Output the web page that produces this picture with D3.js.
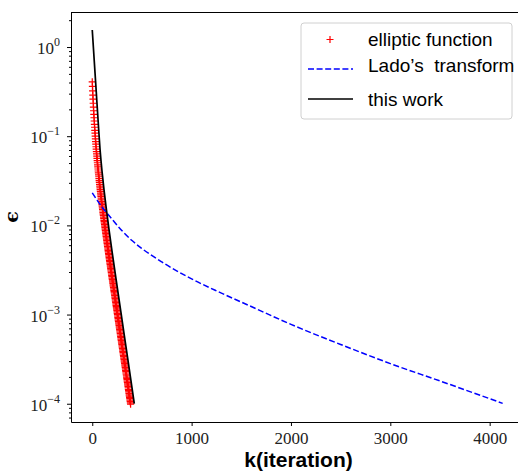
<!DOCTYPE html>
<html>
<head>
<meta charset="utf-8">
<script src="https://cdn.jsdelivr.net/npm/d3@7"></script>
<style>
  body { margin: 0; background: #fff; }
  svg { display: block; }
</style>
</head>
<body>
<div id="chart"></div>
<script>
// values (iteration k, error eps)
const ellipticK = [0, 2, 4, 6, 8, 10, 12, 14, 16, 18, 20, 22, 24, 26, 28, 30, 32, 34, 36, 38,
  40, 42, 44, 46, 48, 50, 52, 54, 56, 58, 60, 62, 64, 66, 68, 70, 72, 74, 76, 78,
  80, 82, 84, 86, 88, 90, 92, 94, 96, 98, 100, 102, 104, 106, 108, 110, 112, 114, 116, 118,
  120, 122, 124, 126, 128, 130, 132, 134, 136, 138, 140, 142, 144, 146, 148, 150, 152, 154, 156, 158,
  160, 162, 164, 166, 168, 170, 172, 174, 176, 178, 180, 182, 184, 186, 188, 190, 192, 194, 196, 198,
  200, 202, 204, 206, 208, 210, 212, 214, 216, 218, 220, 222, 224, 226, 228, 230, 232, 234, 236, 238,
  240, 242, 244, 246, 248, 250, 252, 254, 256, 258, 260, 262, 264, 266, 268, 270, 272, 274, 276, 278,
  280, 282, 284, 286, 288, 290, 292, 294, 296, 298, 300, 302, 304, 306, 308, 310, 312, 314, 316, 318,
  320, 322, 324, 326, 328, 330, 332, 334, 336, 338, 340, 342, 344, 346, 348, 350, 352, 354, 356, 358,
  360, 362, 364, 366, 368, 370, 372, 374, 376, 378, 380, 382, 384, 386];
const ellipticEps = [
  0.407, 0.362, 0.323, 0.289, 0.260, 0.234, 0.212, 0.193, 0.176, 0.161,
  0.148, 0.136, 0.126, 0.116, 0.108, 0.100, 0.0933, 0.0871, 0.0815, 0.0762,
  0.0716, 0.0673, 0.0634, 0.0597, 0.0564, 0.0532, 0.0504, 0.0477, 0.0452, 0.0429,
  0.0407, 0.0387, 0.0368, 0.0351, 0.0334, 0.0318, 0.0303, 0.0289, 0.0276, 0.0264,
  0.0252, 0.0241, 0.0230, 0.0220, 0.0211, 0.0202, 0.0193, 0.0185, 0.0178, 0.0171,
  0.0164, 0.0157, 0.0151, 0.0145, 0.0139, 0.0134, 0.0129, 0.0124, 0.0119, 0.0114,
  0.0110, 0.0106, 0.0102, 0.00980, 0.00944, 0.00908, 0.00874, 0.00842, 0.00811, 0.00781,
  0.00752, 0.00725, 0.00699, 0.00673, 0.00649, 0.00626, 0.00604, 0.00582, 0.00561, 0.00542,
  0.00522, 0.00504, 0.00486, 0.00469, 0.00452, 0.00436, 0.00421, 0.00406, 0.00392, 0.00378,
  0.00365, 0.00352, 0.00340, 0.00328, 0.00317, 0.00306, 0.00295, 0.00285, 0.00275, 0.00266,
  2.56e-3, 2.48e-3, 2.39e-3, 2.31e-3, 2.23e-3, 2.15e-3, 2.08e-3, 2.01e-3, 1.94e-3, 1.87e-3,
  1.81e-3, 1.75e-3, 1.69e-3, 1.63e-3, 1.57e-3, 1.52e-3, 1.46e-3, 1.41e-3, 1.37e-3, 1.32e-3,
  1.27e-3, 1.23e-3, 1.19e-3, 1.15e-3, 1.11e-3, 1.07e-3, 1.03e-3, 9.97e-4, 9.63e-4, 9.30e-4,
  8.98e-4, 8.67e-4, 8.37e-4, 8.08e-4, 7.80e-4, 7.54e-4, 7.28e-4, 7.03e-4, 6.78e-4, 6.55e-4,
  6.33e-4, 6.11e-4, 5.90e-4, 5.70e-4, 5.50e-4, 5.31e-4, 5.13e-4, 4.95e-4, 4.78e-4, 4.62e-4,
  4.46e-4, 4.30e-4, 4.16e-4, 4.01e-4, 3.87e-4, 3.74e-4, 3.61e-4, 3.49e-4, 3.37e-4, 3.25e-4,
  3.14e-4, 3.03e-4, 2.93e-4, 2.83e-4, 2.73e-4, 2.64e-4, 2.55e-4, 2.46e-4, 2.37e-4, 2.29e-4,
  2.21e-4, 2.14e-4, 2.06e-4, 1.99e-4, 1.92e-4, 1.86e-4, 1.79e-4, 1.73e-4, 1.67e-4, 1.62e-4,
  1.56e-4, 1.51e-4, 1.45e-4, 1.40e-4, 1.36e-4, 1.31e-4, 1.26e-4, 1.22e-4, 1.18e-4, 1.14e-4,
  1.10e-4, 1.06e-4, 1.02e-4, 9.89e-5];

const ladoK = [0, 50, 100, 200, 300, 400, 500, 700, 1000, 1300, 1600, 2000, 2500, 3000, 3500, 4131];
const ladoEps = [0.0232, 0.0191, 0.0160, 0.0117, 0.0087, 0.00676, 0.0055, 0.00389, 0.00251,
  0.00174, 0.00123, 7.76e-4, 4.62e-4, 2.82e-4, 1.80e-4, 1.01e-4];

const workK = [0, 20, 40, 62, 78, 88, 98, 118, 138, 168, 198, 238, 288, 338, 388, 423];
const workEps = [1.55, 0.70, 0.316, 0.132, 0.0716, 0.0532, 0.0407, 0.0252, 0.0164, 0.00908,
  0.00521, 0.00256, 0.00107, 4.46e-4, 1.86e-4, 1.0e-4];

const xTicks = [0, 1000, 2000, 3000, 4000];
const yTicks = [1, 1e-1, 1e-2, 1e-3, 1e-4];
const yTickExp = ['0', '\u22121', '\u22122', '\u22123', '\u22124'];
const legendLabels = ['elliptic function', 'Lado\u2019s  transform', 'this work'];

const w = 518;
const h = 471;
const padLeft = 71, padTop = 12, padBottom = 422, padRight = 530;

const svg = d3.select('#chart')
  .append('svg')
  .attr('width', w)
  .attr('height', h);

const xScale = d3.scaleLinear()
  .domain([-214, 4406])
  .range([padLeft, padRight]);

const yScale = d3.scaleLog()
  .domain([6.24e-5, 2.47])
  .range([padBottom, padTop]);

const serif = '"Liberation Serif", "DejaVu Serif", serif';
const sans = '"Liberation Sans", Arial, sans-serif';

// top spine (right spine falls outside the picture)
svg.append('line')
  .attr('x1', padLeft).attr('x2', padRight)
  .attr('y1', padTop + 0.5).attr('y2', padTop + 0.5)
  .attr('stroke', '#000').attr('stroke-width', 1);

// data
const pts = ellipticK.map((k, i) => [k, ellipticEps[i]]);
svg.append('g')
  .selectAll('path')
  .data(pts)
  .enter()
  .append('path')
  .attr('transform', d => 'translate(' + xScale(d[0]) + ',' + yScale(d[1]) + ')')
  .attr('d', 'M-3.6,0H3.6M0,-3.6V3.6')
  .attr('stroke', '#ff0000')
  .attr('stroke-width', 1.2)
  .attr('fill', 'none');

const line = d3.line()
  .x(d => xScale(d[0]))
  .y(d => yScale(d[1]))
  .curve(d3.curveMonotoneX);

svg.append('path')
  .datum(ladoK.map((k, i) => [k, ladoEps[i]]))
  .attr('d', line)
  .attr('fill', 'none')
  .attr('stroke', '#0000ff')
  .attr('stroke-width', 1.5)
  .attr('stroke-dasharray', '6,2.6');

svg.append('path')
  .datum(workK.map((k, i) => [k, workEps[i]]))
  .attr('d', line)
  .attr('fill', 'none')
  .attr('stroke', '#000')
  .attr('stroke-width', 1.7);

// x axis
const xAxis = d3.axisBottom(xScale)
  .tickValues(xTicks)
  .tickFormat(d3.format('d'))
  .tickSize(4)
  .tickSizeOuter(0)
  .tickPadding(6);

const gx = svg.append('g')
  .attr('transform', 'translate(0,' + padBottom + ')')
  .call(xAxis);
gx.selectAll('text').attr('font-family', serif).attr('font-size', 17).attr('fill', '#222');

// y axis, minor ticks first
const minor = yScale.ticks().filter(v => yTicks.indexOf(v) < 0);
svg.append('g')
  .attr('transform', 'translate(' + padLeft + ',0)')
  .call(d3.axisLeft(yScale).tickValues(minor).tickSize(2).tickSizeOuter(0).tickFormat(''))
  .select('.domain').remove();

const gy = svg.append('g')
  .attr('transform', 'translate(' + padLeft + ',0)')
  .call(d3.axisLeft(yScale).tickValues(yTicks).tickSize(4).tickSizeOuter(0).tickPadding(7).tickFormat(''));

gy.selectAll('.tick text').each(function (d, i) {
  const t = d3.select(this)
    .attr('font-family', serif)
    .attr('font-size', 17)
    .attr('fill', '#222')
    .attr('dy', '0.38em');
  t.append('tspan').text('10');
  t.append('tspan').attr('dy', -8).attr('font-size', 12).text(yTickExp[i]);
});

[gx, gy].forEach(g => g.selectAll('line, path').attr('stroke', '#000'));

// axis titles
svg.append('text')
  .attr('x', (padLeft + padRight) / 2 - 2)
  .attr('y', 467)
  .attr('text-anchor', 'middle')
  .attr('font-family', sans)
  .attr('font-weight', 'bold')
  .attr('font-size', 21)
  .text('k(iteration)');

svg.append('text')
  .attr('transform', 'translate(18,' + ((padTop + padBottom) / 2) + ') rotate(-90)')
  .attr('text-anchor', 'middle')
  .attr('font-family', '"DejaVu Serif", serif')
  .attr('font-weight', 'bold')
  .attr('font-size', 19)
  .text('\u03f5');

// legend
const lg = svg.append('g');
lg.append('rect')
  .attr('x', 301).attr('y', 23)
  .attr('width', 211).attr('height', 96)
  .attr('rx', 3)
  .attr('fill', '#fff').attr('fill-opacity', 0.8)
  .attr('stroke', '#d0d0d0');

lg.append('path')
  .attr('d', 'M326.5,39.5H333.5M330,36V43')
  .attr('stroke', '#ff0000').attr('stroke-width', 1.2);
lg.append('line')
  .attr('x1', 308).attr('x2', 353).attr('y1', 69).attr('y2', 69)
  .attr('stroke', '#0000ff').attr('stroke-width', 1.5).attr('stroke-dasharray', '6,2.6');
lg.append('line')
  .attr('x1', 308).attr('x2', 353).attr('y1', 99).attr('y2', 99)
  .attr('stroke', '#000').attr('stroke-width', 1.7);

const baselines = [46, 72, 106];
lg.selectAll('text.leg')
  .data(legendLabels)
  .enter()
  .append('text')
  .attr('class', 'leg')
  .attr('x', 368)
  .attr('y', (d, i) => baselines[i])
  .attr('font-family', sans)
  .attr('font-size', 19)
  .style('white-space', 'pre')
  .text(d => d);
</script>
</body>
</html>
